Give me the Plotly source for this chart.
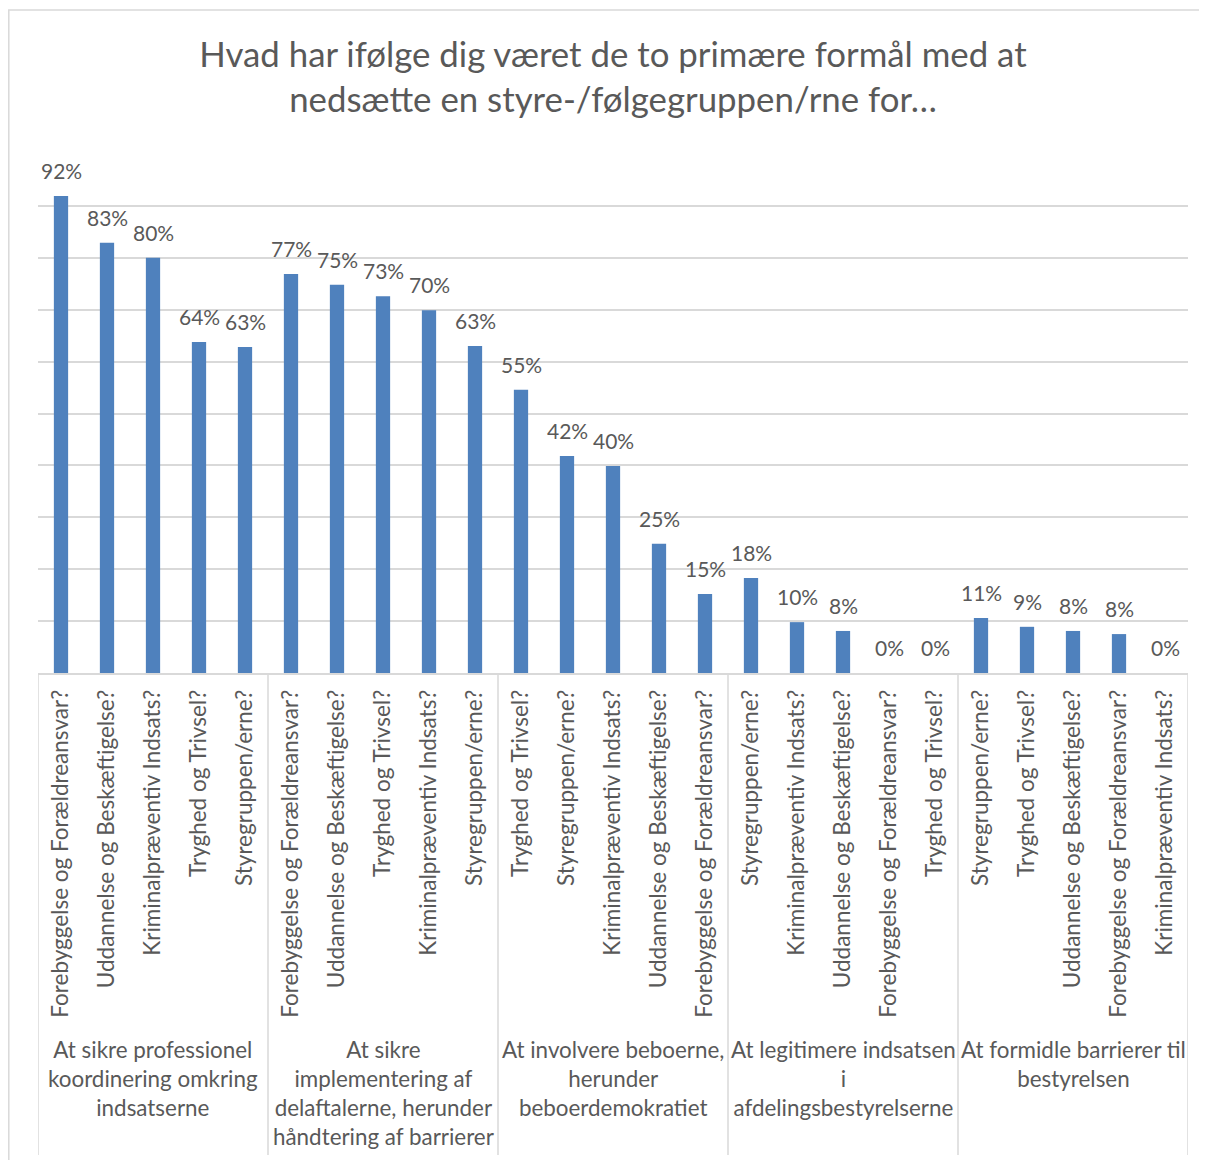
import plotly.graph_objects as go

FONT = "Lato"
GREY = "#595959"
LINE = "#d9d9d9"
BAR = "#4f81bd"

title_text = "Hvad har ifølge dig været de to primære formål med at<br>nedsætte en styre-/følgegruppen/rne for…"

groups = [
    "At sikre professionel<br>koordinering omkring<br>indsatserne",
    "At sikre<br>implementering af<br>delaftalerne, herunder<br>håndtering af barrierer",
    "At involvere beboerne,<br>herunder<br>beboerdemokratiet",
    "At legitimere indsatsen<br>i<br>afdelingsbestyrelserne",
    "At formidle barrierer til<br>bestyrelsen",
]

items_g1 = ["Forebyggelse og Forældreansvar?", "Uddannelse og Beskæftigelse?",
            "Kriminalpræventiv Indsats?", "Tryghed og Trivsel?", "Styregruppen/erne?"]
vals_g1 = [91.9, 82.9, 80.0, 63.8, 62.8]

items_g2 = ["Forebyggelse og Forældreansvar?", "Uddannelse og Beskæftigelse?",
            "Tryghed og Trivsel?", "Kriminalpræventiv Indsats?", "Styregruppen/erne?"]
vals_g2 = [76.9, 74.8, 72.6, 69.9, 63.0]

items_g3 = ["Tryghed og Trivsel?", "Styregruppen/erne?", "Kriminalpræventiv Indsats?",
            "Uddannelse og Beskæftigelse?", "Forebyggelse og Forældreansvar?"]
vals_g3 = [54.6, 41.8, 39.9, 24.9, 15.2]

items_g4 = ["Styregruppen/erne?", "Kriminalpræventiv Indsats?", "Uddannelse og Beskæftigelse?",
            "Forebyggelse og Forældreansvar?", "Tryghed og Trivsel?"]
vals_g4 = [18.3, 9.8, 8.1, 0.0, 0.0]

items_g5 = ["Styregruppen/erne?", "Tryghed og Trivsel?", "Uddannelse og Beskæftigelse?",
            "Forebyggelse og Forældreansvar?", "Kriminalpræventiv Indsats?"]
vals_g5 = [10.6, 8.9, 8.1, 7.5, 0.0]

grid_vals = [10, 20, 30, 40, 50, 60, 70, 80, 90, 100]

all_items = items_g1 + items_g2 + items_g3 + items_g4 + items_g5
all_vals = vals_g1 + vals_g2 + vals_g3 + vals_g4 + vals_g5
group_sizes = [len(items_g1), len(items_g2), len(items_g3), len(items_g4), len(items_g5)]
xs = list(range(len(all_items)))

W, H = 1199, 1152
L, R, T, B = 30, 19, 146, 487
PH = H - T - B  # plot height in px
PW = W - L - R

fig = go.Figure()
fig.add_trace(go.Bar(
    x=xs, y=all_vals, width=0.31,
    marker=dict(color=BAR, line=dict(width=0)),
    hoverinfo="skip",
))

annotations = []
for x, v in zip(xs, all_vals):
    annotations.append(dict(
        x=x, y=v, xref="x", yref="y", text=f"{round(v)}%", showarrow=False,
        yanchor="bottom", xanchor="center", yshift=11,
        font=dict(family=FONT, size=21, color=GREY),
    ))

shapes = []
start = 0
bounds = [-0.5]
for gs in group_sizes:
    start += gs
    bounds.append(start - 0.5)
for b in bounds:
    shapes.append(dict(type="line", xref="x", yref="paper", x0=b, x1=b,
                       y0=0, y1=-482 / PH, line=dict(color=LINE, width=1.5)))

start = 0
for g, gs in zip(groups, group_sizes):
    center = start + (gs - 1) / 2
    annotations.append(dict(
        x=center, y=-0.695, xref="x", yref="paper", text=g, showarrow=False,
        yanchor="top", xanchor="center", align="center",
        font=dict(family=FONT, size=22.4, color=GREY),
    ))
    start += gs

# outer chart border
shapes.append(dict(type="rect", xref="paper", yref="paper",
                   x0=(0.8 - L) / PW, x1=1.05, y0=-1.2, y1=(T + PH - 2) / PH,
                   line=dict(color=LINE, width=1.5), fillcolor="rgba(0,0,0,0)", layer="below"))

fig.update_layout(
    width=W, height=H,
    margin=dict(l=L, r=R, t=T, b=B),
    paper_bgcolor="white", plot_bgcolor="white",
    showlegend=False,
    title=dict(text=title_text, x=0.5, xref="paper", y=1 - 59 / H, yref="container",
               yanchor="top", xanchor="center",
               font=dict(family=FONT, size=34.8, color=GREY)),
    xaxis=dict(range=[-0.5, len(all_items) - 0.5], tickmode="array", tickvals=xs,
               ticktext=all_items, tickangle=-90, showgrid=False, zeroline=False,
               showline=True, linecolor=LINE, linewidth=1.5, ticks="",
               ticklabelstandoff=6,
               tickfont=dict(family=FONT, size=22.5, color=GREY)),
    yaxis=dict(range=[0, 100], tickvals=grid_vals, showticklabels=False,
               showgrid=True, gridcolor=LINE, gridwidth=1.5, zeroline=False,
               showline=False),
    annotations=annotations,
    shapes=shapes,
)

fig.write_html("out.html")
